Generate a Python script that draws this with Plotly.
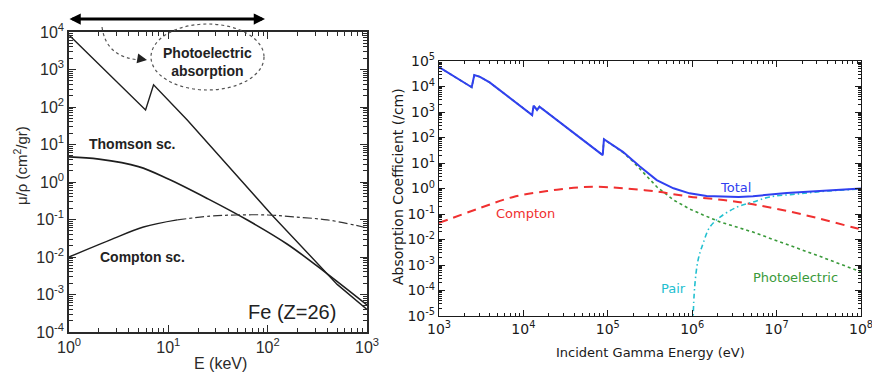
import plotly.graph_objects as go

W, H = 872, 373

# ---------------- Left panel: Fe (Z=26), mass attenuation (cm^2/gr) vs E (keV)
fe_photo_E = [1, 5.9, 7.1, 15.5, 112, 339, 501, 1000]
fe_photo_mu = [8300, 83, 390, 45, 0.126, 0.0054, 0.00186, 0.0004]

fe_thomson_E = [1, 2.0, 5.0, 10, 25.1, 63.1, 158, 398, 1000]
fe_thomson_mu = [4.68, 4.07, 2.57, 1.20, 0.355, 0.0955, 0.0219, 0.00355, 0.000525]

fe_compton_E = [1, 2.57, 5.62, 12.3, 26.3, 49.0, 100, 182, 398, 912, 1000]
fe_compton_mu = [0.01, 0.0282, 0.0631, 0.0977, 0.123, 0.132, 0.132, 0.117, 0.0977, 0.0631, 0.0589]
fe_compton_solid_n = 4  # first points drawn solid, rest dashed

left_x_tickvals = [1, 10, 100, 1000]
left_x_ticktext = ["10<sup>0</sup>", "10<sup>1</sup>", "10<sup>2</sup>", "10<sup>3</sup>"]
left_y_tickvals = [1e-4, 1e-3, 1e-2, 1e-1, 1, 10, 100, 1000, 1e4]
left_y_ticktext = ["10<sup>-4</sup>", "10<sup>-3</sup>", "10<sup>-2</sup>", "10<sup>-1</sup>",
                   "10<sup>0</sup>", "10<sup>1</sup>", "10<sup>2</sup>", "10<sup>3</sup>", "10<sup>4</sup>"]

# ---------------- Right panel: absorption coefficient (/cm) vs incident gamma energy (eV)
total_E = [1e3, 2.44e3, 2.62e3, 3.06e3, 3.98e3, 1.27e4, 1.32e4, 1.45e4, 1.55e4, 8.7e4, 9.0e4,
           1.51e5, 2.4e5, 3.8e5, 6.0e5, 9.3e5, 1.48e6, 2.34e6, 3.55e6, 5.25e6, 1.32e7, 3.24e7, 1e8]
total_mu = [57500, 9330, 28200, 24000, 14500, 759, 1780, 1200, 1620, 20.4, 85.1,
            27.5, 7.24, 2.14, 1.02, 0.646, 0.513, 0.479, 0.468, 0.501, 0.661, 0.794, 1.0]

compton_E = [1e3, 3.09e3, 7.59e3, 1.91e4, 4.68e4, 8.9e4, 1.51e5, 3.8e5, 9.3e5, 2.34e6,
             5.25e6, 1.32e7, 3.24e7, 7.94e7, 1e8]
compton_mu = [0.0447, 0.174, 0.468, 0.794, 1.12, 1.15, 1.02, 0.759, 0.479, 0.355,
              0.24, 0.132, 0.066, 0.0302, 0.0251]

photo_E = [1e3, 2.44e3, 2.62e3, 3.06e3, 3.98e3, 1.27e4, 1.32e4, 1.45e4, 1.55e4, 8.7e4, 9.0e4,
           1.51e5, 2.0e5, 3.8e5, 6.0e5, 9.3e5, 1.35e6, 2.14e6, 5.25e6, 1.32e7, 3.24e7, 1e8]
photo_mu = [57500, 9330, 28200, 24000, 14500, 759, 1780, 1200, 1620, 20.4, 85.1,
            26.3, 11.2, 1.17, 0.355, 0.158, 0.0912, 0.049, 0.0195, 0.0066, 0.00219, 0.000537]

pair_E = [1.02e6, 1.07e6, 1.175e6, 1.35e6, 1.62e6, 2.14e6, 3.39e6, 5.25e6, 8.32e6, 1.74e7, 3.98e7, 1e8]
pair_mu = [5e-6, 1.38e-4, 1.58e-3, 7.24e-3, 0.0309, 0.0759, 0.186, 0.295, 0.468, 0.603, 0.794, 0.955]

right_x_tickvals = [1e3, 1e4, 1e5, 1e6, 1e7, 1e8]
right_x_ticktext = ["10<sup>3</sup>", "10<sup>4</sup>", "10<sup>5</sup>", "10<sup>6</sup>", "10<sup>7</sup>", "10<sup>8</sup>"]
right_y_tickvals = [1e-5, 1e-4, 1e-3, 1e-2, 1e-1, 1, 10, 100, 1e3, 1e4, 1e5]
right_y_ticktext = ["10<sup>-5</sup>", "10<sup>-4</sup>", "10<sup>-3</sup>", "10<sup>-2</sup>", "10<sup>-1</sup>",
                    "10<sup>0</sup>", "10<sup>1</sup>", "10<sup>2</sup>", "10<sup>3</sup>", "10<sup>4</sup>", "10<sup>5</sup>"]


def minor_vals(lo, hi):
    out = []
    for k in range(lo, hi):
        for m in range(2, 10):
            out.append(m * 10.0 ** k)
    return out


fig = go.Figure()

LBLACK = "#1e1e1e"
# left traces
fig.add_trace(go.Scatter(x=fe_photo_E, y=fe_photo_mu, mode="lines",
                         line=dict(color=LBLACK, width=1.4), xaxis="x", yaxis="y"))
fig.add_trace(go.Scatter(x=fe_thomson_E, y=fe_thomson_mu, mode="lines", line_shape="spline",
                         line=dict(color=LBLACK, width=1.6), xaxis="x", yaxis="y"))
fig.add_trace(go.Scatter(x=fe_compton_E[:fe_compton_solid_n], y=fe_compton_mu[:fe_compton_solid_n],
                         mode="lines", line_shape="spline",
                         line=dict(color=LBLACK, width=1.5), xaxis="x", yaxis="y"))
fig.add_trace(go.Scatter(x=fe_compton_E[fe_compton_solid_n - 1:], y=fe_compton_mu[fe_compton_solid_n - 1:],
                         mode="lines", line_shape="spline",
                         line=dict(color="#333333", width=1.2, dash="9px,3px,3px,3px"), xaxis="x", yaxis="y"))

# right traces
fig.add_trace(go.Scatter(x=photo_E, y=photo_mu, mode="lines",
                         line=dict(color="#3a9a3a", width=1.6, dash="dot"), xaxis="x2", yaxis="y2"))
fig.add_trace(go.Scatter(x=compton_E, y=compton_mu, mode="lines", line_shape="spline",
                         line=dict(color="#f03030", width=2, dash="9px,6px"), xaxis="x2", yaxis="y2"))
fig.add_trace(go.Scatter(x=pair_E, y=pair_mu, mode="lines", line_shape="spline",
                         line=dict(color="#22c0d0", width=1.6, dash="5px,3px,1.5px,3px"), xaxis="x2", yaxis="y2"))
fig.add_trace(go.Scatter(x=total_E, y=total_mu, mode="lines",
                         line=dict(color="#3040f0", width=2), xaxis="x2", yaxis="y2"))


def px_x(p):
    return p / W


def px_y(p):
    return 1 - p / H


lfont = dict(family="Liberation Sans, Arial", size=16, color="#2a2a2a")
rfont = dict(family="DejaVu Sans", size=14, color="#1a1a1a")

common_left = dict(type="log", showline=True, linecolor="#2a2a2a", linewidth=1.5, mirror="ticks",
                   ticks="inside", ticklen=7, tickwidth=1.2, tickcolor="#2a2a2a", showgrid=False,
                   zeroline=False, tickfont=lfont, tickmode="array", automargin=False,
                   ticklabeloverflow="allow")
common_right = dict(type="log", showline=True, linecolor="#1a1a1a", linewidth=1.3, mirror="ticks",
                    ticks="inside", ticklen=6, tickwidth=1, tickcolor="#1a1a1a", showgrid=False,
                    zeroline=False, tickfont=rfont, tickmode="array", automargin=False,
                    ticklabeloverflow="allow")

fig.update_layout(
    width=W, height=H, margin=dict(l=0, r=0, t=0, b=0, pad=0, autoexpand=False),
    paper_bgcolor="white", plot_bgcolor="white", showlegend=False,
    xaxis=dict(common_left, domain=[px_x(69), px_x(367)], range=[0, 3], anchor="y",
               tickvals=left_x_tickvals, ticktext=left_x_ticktext,
               minor=dict(tickmode="array", tickvals=minor_vals(0, 3), ticks="inside", ticklen=4,
                          tickcolor="#2a2a2a", showgrid=False)),
    yaxis=dict(common_left, domain=[px_y(332), px_y(32)], range=[-4, 4], anchor="x",
               tickvals=left_y_tickvals, ticktext=left_y_ticktext,
               minor=dict(tickmode="array", tickvals=minor_vals(-4, 4), ticks="inside", ticklen=4,
                          tickcolor="#2a2a2a", showgrid=False)),
    xaxis2=dict(common_right, domain=[px_x(439), px_x(861)], range=[3, 8], anchor="y2",
                tickvals=right_x_tickvals, ticktext=right_x_ticktext,
                minor=dict(tickmode="array", tickvals=minor_vals(3, 8), ticks="inside", ticklen=3,
                           tickcolor="#1a1a1a", showgrid=False)),
    yaxis2=dict(common_right, domain=[px_y(316), px_y(61)], range=[-5, 5], anchor="x2",
                tickvals=right_y_tickvals, ticktext=right_y_ticktext,
                minor=dict(tickmode="array", tickvals=minor_vals(-5, 5), ticks="inside", ticklen=3,
                           tickcolor="#1a1a1a", showgrid=False)),
)

ann = []
# axis titles
ann.append(dict(text="μ/ρ (cm<sup>2</sup>/gr)", x=px_x(20), y=px_y(166), textangle=-90,
                font=dict(family="Liberation Sans, Arial", size=15, color="#2a2a2a")))
ann.append(dict(text="E (keV)", x=px_x(220), y=px_y(363),
                font=dict(family="Liberation Sans, Arial", size=16, color="#2a2a2a")))
ann.append(dict(text="Incident Gamma Energy (eV)", x=px_x(650), y=px_y(352),
                font=dict(family="DejaVu Sans", size=13, color="#1a1a1a")))
ann.append(dict(text="Absorption Coefficient (/cm)", x=px_x(398), y=px_y(187), textangle=-90,
                font=dict(family="DejaVu Sans", size=14, color="#1a1a1a")))
# left labels
bfont = dict(family="Liberation Sans, Arial", size=14, color="#222222")
ann.append(dict(text="<b>Thomson sc.</b>", x=px_x(132), y=px_y(144), font=bfont))
ann.append(dict(text="<b>Compton sc.</b>", x=px_x(142), y=px_y(257), font=bfont))
ann.append(dict(text="<b>Photoelectric</b><br><b>absorption</b>", x=px_x(207), y=px_y(62), font=bfont))
ann.append(dict(text="Fe (Z=26)", x=px_x(292), y=px_y(312),
                font=dict(family="Liberation Sans, Arial", size=20, color="#222222")))
# right labels
rl = dict(family="DejaVu Sans", size=13)
ann.append(dict(text="Total", x=px_x(735), y=px_y(187), font=dict(rl, color="#3040f0")))
ann.append(dict(text="Compton", x=px_x(525), y=px_y(213), font=dict(rl, color="#f03030")))
ann.append(dict(text="Photoelectric", x=px_x(795), y=px_y(277), font=dict(rl, color="#3a9a3a")))
ann.append(dict(text="Pair", x=px_x(673), y=px_y(288), font=dict(rl, color="#22c0d0")))
for a in ann:
    a.update(xref="paper", yref="paper", showarrow=False, xanchor="center", yanchor="middle")

# double-headed arrow at top of left panel
ann.append(dict(text="", xref="paper", yref="paper", x=px_x(265), y=px_y(19), ax=-197, ay=0,
                showarrow=True, arrowside="end+start", arrowhead=2, arrowsize=0.75, arrowwidth=3,
                arrowcolor="#000000", standoff=0, startstandoff=0))
# small arrowhead of the curved dotted arrow
ann.append(dict(text="", xref="paper", yref="paper", x=px_x(147), y=px_y(60), ax=-6, ay=-1,
                showarrow=True, arrowhead=2, arrowsize=1.3, arrowwidth=1.5,
                arrowcolor="#222222", standoff=0))
fig.update_layout(annotations=ann)

shapes = [
    dict(type="circle", xref="paper", yref="paper", x0=px_x(151), x1=px_x(264), y0=px_y(90), y1=px_y(24),
         line=dict(color="#555555", width=1.2, dash="dot")),
    dict(type="path", xref="paper", yref="paper",
         path="M {:.4f},{:.4f} Q {:.4f},{:.4f} {:.4f},{:.4f}".format(
             px_x(102), px_y(27), px_x(106), px_y(58), px_x(141), px_y(60)),
         line=dict(color="#555555", width=1.2, dash="dot")),
]
fig.update_layout(shapes=shapes)

fig.write_html("out.html", config={"displayModeBar": False},
               post_script="document.body.style.margin='0px';document.body.style.overflow='hidden';")
